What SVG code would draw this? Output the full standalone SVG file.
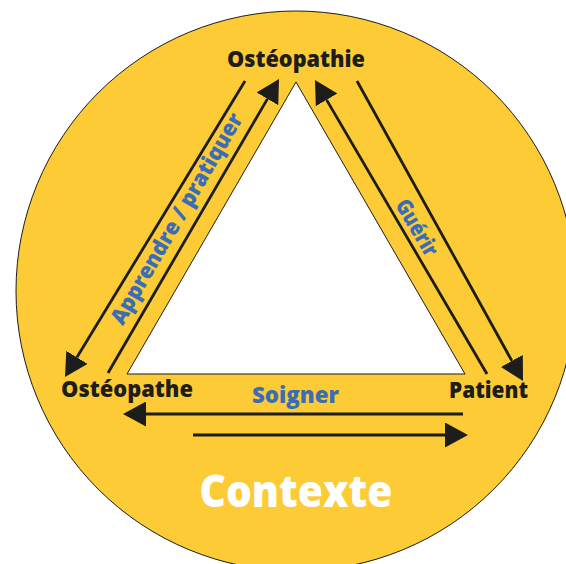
<svg xmlns="http://www.w3.org/2000/svg" width="566" height="564" viewBox="0 0 566 564">
  <defs>
    <style>
      .lbl { font-family: "Open Sans", "Noto Sans", "Liberation Sans", sans-serif; font-weight: 800; }
      .node { font-size: 23px; fill: #1d1d1b; text-anchor: middle; }
      .edge { font-size: 22px; fill: #3a6db5; text-anchor: middle; }
      .conn { stroke: #1d1d1b; stroke-width: 2.8; fill: none; marker-end: url(#arrow); }
    </style>
    <marker id="arrow" viewBox="0 0 23 25" markerWidth="23" markerHeight="25" refX="0" refY="12.5" orient="auto" markerUnits="userSpaceOnUse">
      <path d="M0,0 L23,12.5 L0,25 Z" fill="#1d1d1b"/>
    </marker>
  </defs>

  <g id="contexte">
    <circle cx="296" cy="291" r="280" fill="#fdcb35" stroke="#1d1d1b" stroke-width="1"/>
    <text class="lbl" x="296" y="507" font-size="45" fill="#ffffff" text-anchor="middle" textLength="193" lengthAdjust="spacingAndGlyphs">Contexte</text>
  </g>

  <g id="triangle">
    <polygon points="296,82 465,374 127,374" fill="#ffffff" stroke="#1d1d1b" stroke-width="1"/>
  </g>

  <g id="connectors">
    <line class="conn" x1="245" y1="81" x2="76.95" y2="357.35"/>
    <line class="conn" x1="108" y1="373" x2="267.44" y2="98.88"/>
    <line class="conn" x1="487" y1="374" x2="326.6" y2="99.85"/>
    <line class="conn" x1="357" y1="81" x2="511.87" y2="360.88"/>
    <line class="conn" x1="463" y1="414" x2="146" y2="414"/>
    <line class="conn" x1="193" y1="435" x2="445" y2="435"/>
    <text class="lbl edge" transform="translate(183,222.5) rotate(-59.8)" textLength="240" lengthAdjust="spacingAndGlyphs">Apprendre / pratiquer</text>
    <text class="lbl edge" transform="translate(410.5,231.5) rotate(59.5)" textLength="62" lengthAdjust="spacingAndGlyphs">Guérir</text>
    <text class="lbl edge" x="295.5" y="403" textLength="87" lengthAdjust="spacingAndGlyphs">Soigner</text>
  </g>

  <g id="osteopathie">
    <text class="lbl node" x="296" y="67" textLength="138" lengthAdjust="spacingAndGlyphs">Ostéopathie</text>
  </g>
  <g id="osteopathe">
    <text class="lbl node" x="127" y="397" textLength="132" lengthAdjust="spacingAndGlyphs">Ostéopathe</text>
  </g>
  <g id="patient">
    <text class="lbl node" x="488.5" y="398" textLength="79" lengthAdjust="spacingAndGlyphs">Patient</text>
  </g>
</svg>
